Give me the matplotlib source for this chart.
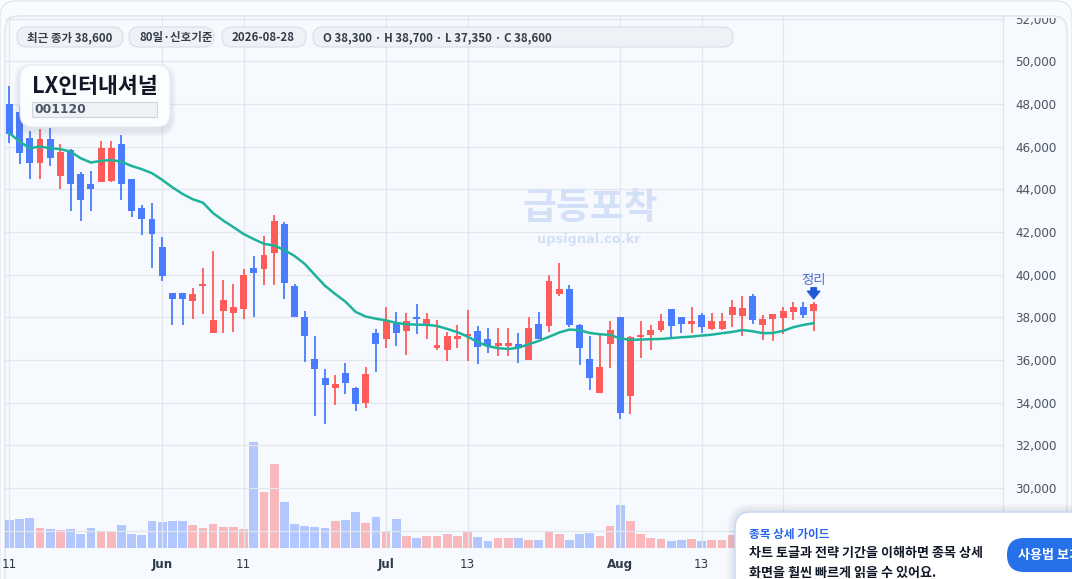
import matplotlib
matplotlib.use('Agg')
import matplotlib.pyplot as plt
import numpy as np
import pandas as pd
from matplotlib.patches import FancyBboxPatch, Rectangle
from matplotlib.transforms import Affine2D, Bbox, TransformedBbox
from matplotlib.ticker import FuncFormatter

plt.rcParams['font.family'] = ['DejaVu Sans', 'Noto Sans CJK KR']
KR = ['Noto Sans CJK KR', 'DejaVu Sans']

# --- data ---
name = 'LX인터내셔널'
code = '001120'
dates = pd.bdate_range('2026-05-11', '2026-08-28')

opens = [48000, 47600, 46400, 45250, 46350, 44600, 45850, 44700, 44250, 44350,
         44400, 46100, 44500, 43100, 42600, 41300, 39150, 39150, 38750, 39450,
         37250, 38300, 38200, 38400, 40300, 40250, 41000, 42350, 39450, 38000,
         36050, 35150, 34700, 35400, 34700, 34000, 37250, 37000, 37750, 37350,
         38000, 37700, 36550, 36450, 37000, 37100, 37350, 37000, 36650, 36650,
         36750, 36000, 37700, 37600, 39100, 39300, 37650, 36050, 34450, 36750,
         38000, 34300, 37050, 37150, 37400, 38400, 38000, 37700, 38100, 37450,
         37450, 38100, 38050, 39000, 37650, 37900, 37950, 38250, 38500, 38300]
highs = [48850, 47900, 46750, 46800, 46850, 46100, 45900, 44800, 44850, 46250,
         46250, 46550, 44500, 43250, 43350, 41750, 39150, 39150, 39350, 40300,
         41100, 39750, 39550, 40250, 40850, 41800, 42800, 42450, 39550, 38300,
         37100, 35550, 35300, 35850, 34750, 35650, 37450, 38500, 38250, 38200,
         38600, 38200, 37850, 37300, 37650, 38350, 37600, 37500, 37500, 37500,
         37250, 38000, 38250, 40000, 40550, 39500, 37700, 37100, 37150, 37800,
         38000, 37100, 37800, 37650, 38150, 38400, 38000, 38500, 38200, 38200,
         38200, 38800, 39000, 39100, 38100, 38150, 38500, 38700, 38700, 38700]
lows = [46150, 45200, 44500, 44500, 45100, 44000, 43000, 42500, 43000, 44350,
        44350, 43500, 42700, 41850, 40300, 39700, 37650, 37650, 37900, 38150,
        37250, 37250, 37300, 37900, 38000, 39500, 39500, 38850, 38000, 35900,
        33350, 33000, 33900, 34400, 33600, 33750, 35450, 36550, 36650, 36250,
        37200, 37000, 36450, 35950, 36550, 35950, 35800, 36300, 36200, 36200,
        35850, 36000, 37000, 37300, 39000, 37550, 35750, 34600, 34450, 35600,
        33250, 33450, 36100, 36450, 37300, 37050, 37250, 37250, 37250, 37400,
        37400, 37550, 37100, 37700, 36950, 36900, 37200, 37850, 37950, 37350]
closes = [46600, 45700, 45250, 46350, 45450, 45750, 44250, 43500, 44000, 45950,
          45950, 44250, 43000, 42600, 41900, 39950, 38850, 38850, 39100, 39550,
          37850, 38800, 38500, 40000, 40050, 40900, 42500, 39600, 38000, 37100,
          35550, 34800, 34850, 34900, 33950, 35350, 36750, 37850, 37250, 37800,
          37900, 37900, 36700, 37100, 37100, 37200, 36600, 36650, 36800, 36800,
          36550, 37500, 37000, 39700, 39300, 37650, 36550, 35150, 35650, 37400,
          33500, 37050, 37150, 37400, 37800, 37600, 37700, 37800, 37550, 37800,
          37800, 38500, 38450, 37850, 37900, 38150, 38300, 38500, 38100, 38600]
# volume, thousand shares (last few are hidden behind the guide card)
volume = [166, 172, 178, 118, 112, 106, 112, 82, 118, 94,
          94, 136, 82, 76, 160, 154, 160, 160, 136, 118,
          142, 124, 124, 112, 634, 334, 502, 274, 142, 130,
          124, 118, 160, 166, 214, 148, 184, 94, 172, 70,
          58, 70, 70, 82, 70, 94, 64, 40, 58, 58,
          58, 46, 46, 100, 82, 46, 82, 88, 70, 130,
          256, 160, 82, 58, 52, 40, 46, 52, 40, 46,
          46, 76, 70, 90, 60, 55, 60, 50, 45, 85]
ma_line = [46630, 46230, 45920, 46000, 45920, 45880, 45760, 45450, 45250, 45330,
           45370, 45290, 45090, 44940, 44750, 44440, 44090, 43780, 43530, 43370,
           42880, 42530, 42220, 41900, 41660, 41440, 41360, 41150, 40870, 40500,
           39980, 39470, 39090, 38730, 38250, 38030, 37930, 37850, 37730, 37670,
           37650, 37640, 37590, 37450, 37300, 37090, 36830, 36640, 36550, 36510,
           36570, 36730, 36890, 37080, 37280, 37420, 37390, 37260, 37200, 37170,
           37000, 36940, 36950, 36970, 36980, 37020, 37060, 37090, 37140, 37180,
           37250, 37310, 37400, 37340, 37250, 37260, 37360, 37530, 37640, 37720]
tick_dates = ['2026-05-11', '2026-06-01', '2026-06-11', '2026-07-01',
              '2026-07-13', '2026-08-03', '2026-08-13', '2026-08-25']
price_ticks = list(range(28000, 52001, 2000))

UP, DOWN = '#ff5b5b', '#4a7cff'
W, H = 1072, 579

fig = plt.figure(figsize=(W / 100, H / 100), dpi=100, facecolor='#fbfcfe')
T = Affine2D().scale(1, -1).translate(0, H)   # pixel coords, origin top-left


def rbox(x, y, w, h, r, fc, ec='none', lw=1.0, z=1, alpha=1.0):
    p = FancyBboxPatch((x, y), w, h, boxstyle=f'round,pad=0,rounding_size={r}',
                       fc=fc, ec=ec, lw=lw, alpha=alpha, transform=T, zorder=z)
    fig.add_artist(p)
    return p


def soft_shadow(x, y, w, h, r, z, dy=4, n=6, alpha=0.025):
    for k in range(n, 0, -1):
        rbox(x - k, y - k + dy, w + 2 * k, h + 2 * k, r + k, '#5a6b8c', z=z, alpha=alpha)


# page + chart container
rbox(0, 1, W, 700, 16, '#f9fbfd', '#e3e8ef', z=-3)
rbox(5, 16, 1062, 700, 14, '#f6f9fe', '#dde4ee', z=-2)

rect = [5 / W, (H - 548) / H, 998 / W, 532 / H]
ax_vol = fig.add_axes(rect)
ax = fig.add_axes(rect, sharex=ax_vol)
for a in (ax, ax_vol):
    a.patch.set_alpha(0)

x = np.arange(len(dates))
o, hi, lo, c = map(np.array, (opens, highs, lows, closes))
colors = [UP if cc >= oo else DOWN for oo, cc in zip(o, c)]

# volume
ax_vol.bar(x, volume, width=0.86, color=colors, alpha=0.4, lw=0)
ax_vol.set_ylim(0, max(volume) * 532 / 105.7)
ax_vol.axis('off')

# candles
ax.vlines(x, lo, hi, colors=colors, lw=1.3, zorder=2)
body = np.maximum(np.abs(c - o), 70)
ax.bar(x, body, bottom=np.minimum(o, c), width=0.68, color=colors, lw=0, zorder=3)
ax.plot(x, ma_line, color='#1db39a', lw=1.8, zorder=4)

ax.set_xlim(-0.44, 97.6)
ax.set_ylim(27180, 52120)

# axes styling
ax.yaxis.tick_right()
ax.set_yticks(price_ticks)
ax.yaxis.set_major_formatter(FuncFormatter(lambda v, p: f'{int(v):,}'))
tick_pos = [dates.get_loc(pd.Timestamp(d)) for d in tick_dates]
tick_lbl = []
for i, d in enumerate(tick_dates):
    ts = pd.Timestamp(d)
    first = i > 0 and pd.Timestamp(tick_dates[i - 1]).month != ts.month
    tick_lbl.append(ts.strftime('%b') if first else str(ts.day))
tick_lbl[-1] = ''   # sits under the guide card in the reference
ax.set_xticks(tick_pos, tick_lbl)
for lbl in ax.get_xticklabels():
    if lbl.get_text() and not lbl.get_text().isdigit():
        lbl.set_fontweight('bold')
ax.tick_params(axis='y', length=0, pad=9, labelsize=8.6, labelcolor='#4a5262')
ax.tick_params(axis='x', length=0, pad=7, labelsize=8.6, labelcolor='#2f3a4a')
ax.grid(color='#e2e7ee', lw=0.9)
ax.set_axisbelow(True)
for s in ('top', 'left', 'bottom'):
    ax.spines[s].set_visible(False)
ax.spines['right'].set_color('#dfe4eb')
ax.spines['right'].set_linewidth(0.9)
clip = TransformedBbox(Bbox([[0, 0], [1, (H - 17.5) / H]]), fig.transFigure)
for t in ax.yaxis.get_major_ticks():
    t.label2.set_clip_on(True)
    t.label2.set_clip_box(clip)

# signal marker on last candle
ax.annotate('', xy=(x[-1], 38860), xytext=(x[-1], 39380),
            arrowprops=dict(arrowstyle='simple,head_length=0.5,head_width=0.8,tail_width=0.35',
                            fc='#2158d8', ec='#2158d8', mutation_scale=11,
                            shrinkA=0, shrinkB=0),
            zorder=6)
ax.text(x[-1], 39760, '정리', ha='center', va='center', fontsize=9.6,
        color='#4e6fcf', family=KR, zorder=6)

# watermark
fig.text(590, 208, '급등포착', transform=T, ha='center', va='center', fontsize=26.5,
         fontweight='bold', color='#d4e0f7', family=KR, zorder=2)
fig.text(589, 240, 'upsignal.co.kr', transform=T, ha='center', va='center', fontsize=9.3,
         fontweight='bold', color='#d4e0f7', zorder=2)

# chips
chips = [(f'최근 종가 {closes[-1]:,}', 17, 106),
         ('80일·신호기준', 129, 85),
         (dates[-1].strftime('%Y-%m-%d'), 222, 84),
         (f'O {opens[-1]:,} · H {highs[-1]:,} · L {lows[-1]:,} · C {closes[-1]:,}', 313, 420)]
for txt, cx, cw in chips:
    rbox(cx, 27, cw, 20, 10, '#eef1f6', '#dce1e8', lw=0.9, z=5)
    fig.text(cx + 10, 37.5, txt, transform=T, ha='left', va='center', fontsize=8.3,
             fontweight='bold', color='#363e4b', family=KR, zorder=6)

# title box
soft_shadow(20, 65, 150, 62, 13, z=5)
rbox(20, 65, 150, 62, 13, '#fcfdff', '#e7ebf1', lw=0.8, z=5)
fig.text(32, 86.5, name, transform=T, ha='left', va='center', fontsize=15.6,
         fontweight='bold', color='#111827', family=KR, zorder=6)
fig.add_artist(Rectangle((32, 102), 125, 15, fc='#eef1f5', ec='#cfd5dd', lw=0.8,
                         transform=T, zorder=6))
fig.text(34, 109.8, code, transform=T, ha='left', va='center', fontsize=8.8,
         fontweight='bold', color='#4b5563', zorder=7)

# guide card
soft_shadow(735, 512, 400, 120, 16, z=8, dy=0, n=8, alpha=0.02)
rbox(735, 512, 400, 120, 16, '#ffffff', '#c9d8f3', lw=1.1, z=8)
fig.text(749, 534, '종목 상세 가이드', transform=T, ha='left', va='center', fontsize=8.4,
         fontweight='bold', color='#2563eb', family=KR, zorder=9)
fig.text(749, 553, '차트 토글과 전략 기간을 이해하면 종목 상세', transform=T, ha='left',
         va='center', fontsize=9.4, fontweight='bold', color='#111827', family=KR, zorder=9)
fig.text(749, 572.5, '화면을 훨씬 빠르게 읽을 수 있어요.', transform=T, ha='left',
         va='center', fontsize=9.4, fontweight='bold', color='#111827', family=KR, zorder=9)
rbox(1007, 538, 120, 34, 17, '#2670ea', z=9)
fig.text(1018, 555, '사용법 보기', transform=T, ha='left', va='center', fontsize=9.4,
         fontweight='bold', color='white', family=KR, zorder=10)

fig.savefig('out.png', dpi=100, facecolor=fig.get_facecolor())
